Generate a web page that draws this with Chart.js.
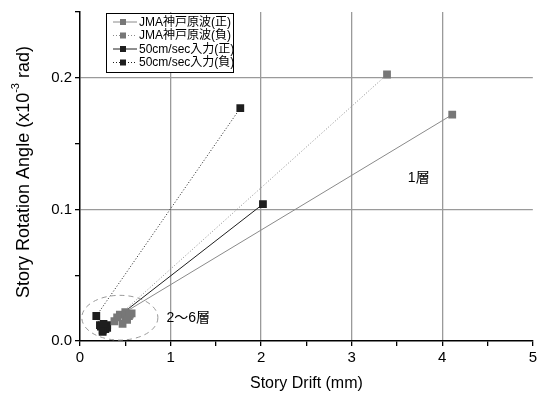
<!DOCTYPE html>
<html lang="ja">
<head>
<meta charset="UTF-8">
<title>Story Drift vs Rotation</title>
<script src="https://cdn.jsdelivr.net/npm/chart.js"></script>
<style>
  body { margin: 0; background: #fff; }
  #wrap { width: 540px; height: 396px; }
</style>
</head>
<body>
<div id="wrap"><canvas id="c" width="540" height="396"></canvas></div>
<script>
// 層 1..6 の値 (1層が右上, 2~6層は原点付近)
const seriesNames = ['JMA神戸原波(正)', 'JMA神戸原波(負)', '50cm/sec入力(正)', '50cm/sec入力(負)'];
const jmaPosX = [4.11, 0.50, 0.55, 0.52, 0.47, 0.41];
const jmaPosY = [0.172, 0.022, 0.020, 0.016, 0.013, 0.018];
const jmaNegX = [3.39, 0.44, 0.50, 0.57, 0.54, 0.38];
const jmaNegY = [0.2025, 0.020, 0.017, 0.021, 0.019, 0.015];
const inPosX = [2.02, 0.30, 0.27, 0.25, 0.23, 0.26];
const inPosY = [0.104, 0.012, 0.010, 0.008, 0.011, 0.013];
const inNegX = [1.77, 0.18, 0.22, 0.28, 0.25, 0.30];
const inNegY = [0.177, 0.019, 0.012, 0.009, 0.007, 0.010];
const xTicks = [0, 1, 2, 3, 4, 5];
const yTicks = ['0.0', '0.1', '0.2'];

const GREY = '#777777';
const GREY_LINE = '#8a8a8a';
const BLACK = '#1e1e1e';
const FONT = '"Liberation Sans", Arial, sans-serif';
const JFONT = '"Liberation Sans", "Noto Sans CJK JP", sans-serif';

function pts(xs, ys) { return xs.map((x, i) => ({ x: x, y: ys[i] })); }

function ds(label, data, color, lineColor, dashed) {
  return {
    label: label, data: data, showLine: true,
    borderColor: lineColor, borderWidth: 1, borderDash: dashed ? [1, 2] : [],
    pointStyle: 'rect', pointRadius: 5.5, pointHoverRadius: 5.5,
    pointBackgroundColor: color, pointBorderColor: color, pointBorderWidth: 0
  };
}

// 注記, 楕円, 凡例, 軸タイトル
const extras = {
  id: 'extras',
  afterDatasetsDraw(chart) {
    const { ctx, scales: { x, y } } = chart;
    ctx.save();
    // 2~6層 の破線楕円
    ctx.strokeStyle = '#999';
    ctx.lineWidth = 1;
    ctx.setLineDash([5, 4]);
    ctx.beginPath();
    const cx = x.getPixelForValue(0.44), cy = y.getPixelForValue(0.0177);
    const rx = x.getPixelForValue(0.86) - cx, ry = cy - y.getPixelForValue(0.0347);
    ctx.ellipse(cx, cy, rx, ry, 0, 0, Math.PI * 2);
    ctx.stroke();
    ctx.setLineDash([]);

    ctx.fillStyle = '#000';
    ctx.font = '14px ' + JFONT;
    ctx.textBaseline = 'middle';
    ctx.textAlign = 'left';
    ctx.fillText('2〜6層', x.getPixelForValue(0.955), y.getPixelForValue(0.017));
    ctx.fillText('1層', x.getPixelForValue(3.62), y.getPixelForValue(0.124));

    // 凡例
    const bx = 106, by = 13, bw = 127, bh = 59;
    ctx.fillStyle = '#fff';
    ctx.fillRect(bx, by, bw, bh);
    ctx.strokeStyle = '#000';
    ctx.lineWidth = 1;
    ctx.strokeRect(bx + 0.5, by + 0.5, bw, bh);
    const rows = [
      [GREY, GREY_LINE, false], [GREY, GREY_LINE, true],
      [BLACK, BLACK, false], [BLACK, BLACK, true]
    ];
    ctx.font = '12px ' + JFONT;
    rows.forEach((r, i) => {
      const ry0 = 22 + i * 13.5;
      ctx.strokeStyle = r[1];
      ctx.setLineDash(r[2] ? [1, 2] : []);
      ctx.beginPath();
      ctx.moveTo(113, ry0); ctx.lineTo(137, ry0);
      ctx.stroke();
      ctx.setLineDash([]);
      ctx.fillStyle = r[0];
      ctx.fillRect(120, ry0 - 3, 6, 6);
      ctx.fillStyle = '#000';
      ctx.fillText(seriesNames[i], 139, ry0 + 0.5);
    });

    // X 軸タイトル
    ctx.font = '16px ' + FONT;
    ctx.textAlign = 'center';
    ctx.fillText('Story Drift (mm)', (x.left + x.right) / 2, 384);

    // Y 軸タイトル (上付き -3)
    ctx.translate(24, 172);
    ctx.rotate(-Math.PI / 2);
    const a = 'Story Rotation Angle (x10', s = '-3', b = ' rad)';
    ctx.font = '18px ' + FONT;
    const wa = ctx.measureText(a).width, wb = ctx.measureText(b).width;
    ctx.font = '11px ' + FONT;
    const ws = ctx.measureText(s).width;
    let px = -(wa + ws + wb) / 2;
    ctx.textAlign = 'left';
    ctx.font = '18px ' + FONT;
    ctx.fillText(a, px, 0); px += wa;
    ctx.font = '11px ' + FONT;
    ctx.fillText(s, px, -8); px += ws;
    ctx.font = '18px ' + FONT;
    ctx.fillText(b, px, 0);
    ctx.restore();
  }
};

new Chart(document.getElementById('c'), {
  type: 'scatter',
  data: {
    datasets: [
      ds(seriesNames[0], pts(jmaPosX, jmaPosY), GREY, GREY_LINE, false),
      ds(seriesNames[1], pts(jmaNegX, jmaNegY), GREY, GREY_LINE, true),
      ds(seriesNames[2], pts(inPosX, inPosY), BLACK, BLACK, false),
      ds(seriesNames[3], pts(inNegX, inNegY), BLACK, BLACK, true)
    ]
  },
  options: {
    responsive: false,
    animation: false,
    layout: { padding: { top: 8, right: 7, left: 0, bottom: 0 } },
    plugins: { legend: { display: false }, tooltip: { enabled: false } },
    scales: {
      x: {
        type: 'linear', min: 0, max: 5,
        afterFit(s) { s.height = 55; },
        ticks: {
          stepSize: 0.5, autoSkip: false, maxRotation: 0, padding: 3,
          color: '#000', font: { family: FONT, size: 15 },
          callback: v => (xTicks.includes(v) ? String(v) : '')
        },
        grid: {
          color: c => (c.tick && Number.isInteger(c.tick.value) && c.tick.value > 0 && c.tick.value < 5) ? '#9a9a9a' : 'rgba(0,0,0,0)',
          lineWidth: 1.3, tickColor: '#000', tickLength: 5, tickWidth: 1.3
        },
        border: { color: '#000', width: 1.5 }
      },
      y: {
        type: 'linear', min: 0, max: 0.25,
        afterFit(s) { s.width = 80; },
        ticks: {
          stepSize: 0.05, autoSkip: false, padding: 3,
          color: '#000', font: { family: FONT, size: 15 },
          callback: v => {
            const k = Math.round(v * 100);
            return k % 10 === 0 ? yTicks[k / 10] : '';
          }
        },
        grid: {
          color: c => {
            if (!c.tick) return 'rgba(0,0,0,0)';
            const k = Math.round(c.tick.value * 100);
            return (k === 10 || k === 20) ? '#9a9a9a' : 'rgba(0,0,0,0)';
          },
          lineWidth: 1.3, tickColor: '#000', tickLength: 5, tickWidth: 1.3
        },
        border: { color: '#000', width: 1.5 }
      }
    }
  },
  plugins: [extras]
});
</script>
</body>
</html>
